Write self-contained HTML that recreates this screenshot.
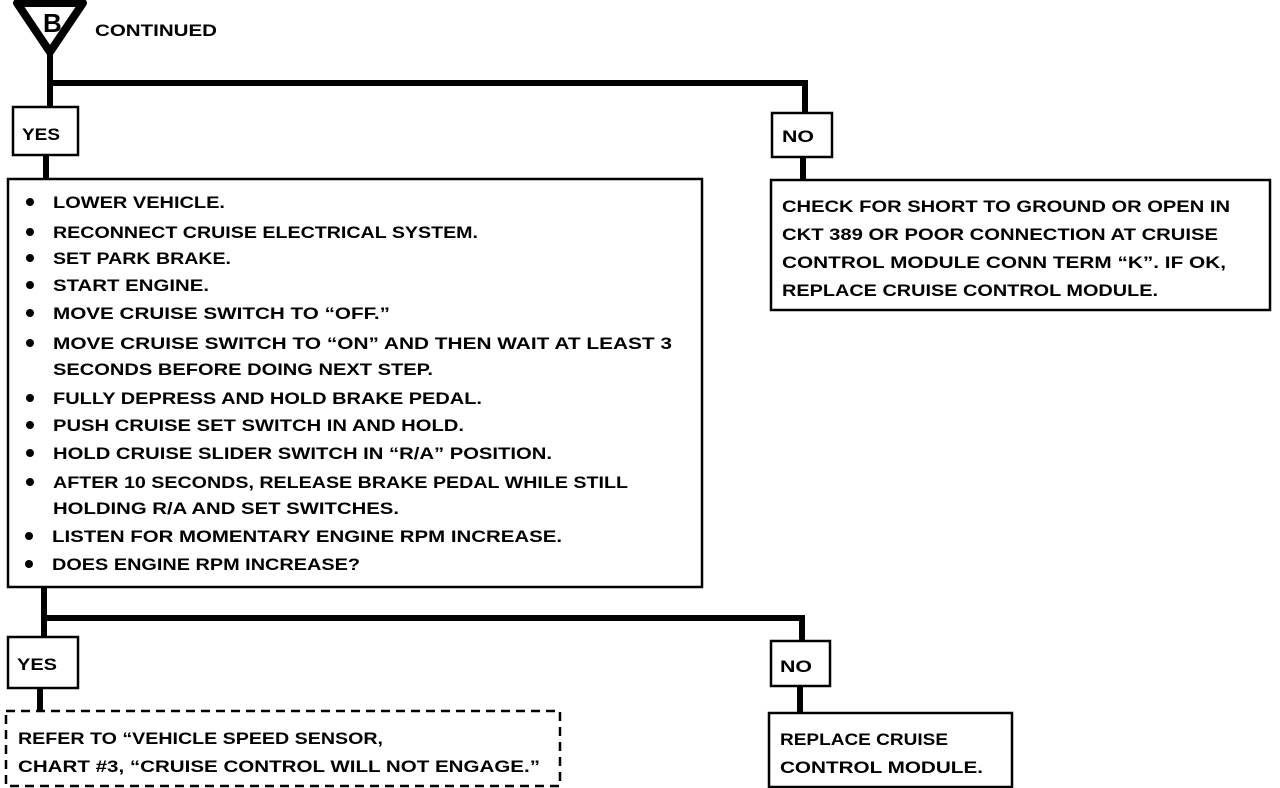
<!DOCTYPE html>
<html><head><meta charset="utf-8"><style>
html,body{margin:0;padding:0;background:#fff;width:1280px;height:788px;overflow:hidden}
svg text{font-family:"Liberation Sans",sans-serif;font-weight:bold;font-size:17px;fill:#000}
</style></head><body>
<svg width="1280" height="788" viewBox="0 0 1280 788" xmlns="http://www.w3.org/2000/svg">
<g fill="none" stroke="#000">
<!-- triangle -->
<polygon points="17,3 83,3 50,52" stroke-width="8" stroke-linejoin="round" fill="#fff"/>
<!-- top connectors -->
<line x1="50" y1="52" x2="50" y2="108" stroke-width="6"/>
<line x1="47" y1="83" x2="808" y2="83" stroke-width="6"/>
<line x1="805" y1="80" x2="805" y2="113" stroke-width="6"/>
<line x1="46" y1="155" x2="46" y2="179" stroke-width="6"/>
<line x1="803" y1="157" x2="803" y2="180" stroke-width="6"/>
<rect x="13" y="107" width="65" height="48" stroke-width="2.5" fill="#fff"/>
<rect x="772" y="113" width="60" height="44" stroke-width="2.5" fill="#fff"/>
<rect x="8" y="179" width="694" height="408" stroke-width="2.5"/>
<rect x="771" y="180" width="499" height="130" stroke-width="2.5"/>
<!-- bottom connectors -->
<line x1="44" y1="587" x2="44" y2="638" stroke-width="6"/>
<line x1="41" y1="618" x2="805" y2="618" stroke-width="6"/>
<line x1="802" y1="615" x2="802" y2="641" stroke-width="6"/>
<line x1="40" y1="688" x2="40" y2="711" stroke-width="6"/>
<line x1="800" y1="686" x2="800" y2="713" stroke-width="6"/>
<rect x="8" y="637" width="70" height="51" stroke-width="2.5" fill="#fff"/>
<rect x="771" y="641" width="59" height="45" stroke-width="2.5" fill="#fff"/>
<rect x="6" y="711" width="554" height="75" stroke-width="2.5" stroke-dasharray="9,6"/>
<rect x="769" y="713" width="243" height="74" stroke-width="2.5"/>
</g>
<text x="43" y="32" font-size="26" style="font-size:26px" fill="#fff">B</text>
<text x="95" y="36" textLength="122" lengthAdjust="spacingAndGlyphs">CONTINUED</text>
<text x="22" y="140" textLength="38" lengthAdjust="spacingAndGlyphs">YES</text>
<text x="782" y="142" textLength="32" lengthAdjust="spacingAndGlyphs">NO</text>
<g fill="#000">
<circle cx="30" cy="202" r="4"/><circle cx="30" cy="232" r="4"/><circle cx="30" cy="258" r="4"/><circle cx="30" cy="285" r="4"/><circle cx="30" cy="313" r="4"/><circle cx="30" cy="343" r="4"/><circle cx="30" cy="398" r="4"/><circle cx="30" cy="425" r="4"/><circle cx="30" cy="453" r="4"/><circle cx="30" cy="482" r="4"/><circle cx="29" cy="536" r="4"/><circle cx="29" cy="564" r="4"/>
</g>
<text x="53" y="208" textLength="172" lengthAdjust="spacingAndGlyphs">LOWER VEHICLE.</text>
<text x="53" y="238" textLength="425" lengthAdjust="spacingAndGlyphs">RECONNECT CRUISE ELECTRICAL SYSTEM.</text>
<text x="53" y="264" textLength="178" lengthAdjust="spacingAndGlyphs">SET PARK BRAKE.</text>
<text x="53" y="291" textLength="156" lengthAdjust="spacingAndGlyphs">START ENGINE.</text>
<text x="53" y="319" textLength="337" lengthAdjust="spacingAndGlyphs">MOVE CRUISE SWITCH TO “OFF.”</text>
<text x="53" y="349" textLength="619" lengthAdjust="spacingAndGlyphs">MOVE CRUISE SWITCH TO “ON” AND THEN WAIT AT LEAST 3</text>
<text x="53" y="375" textLength="380" lengthAdjust="spacingAndGlyphs">SECONDS BEFORE DOING NEXT STEP.</text>
<text x="53" y="404" textLength="429" lengthAdjust="spacingAndGlyphs">FULLY DEPRESS AND HOLD BRAKE PEDAL.</text>
<text x="53" y="431" textLength="411" lengthAdjust="spacingAndGlyphs">PUSH CRUISE SET SWITCH IN AND HOLD.</text>
<text x="53" y="459" textLength="499" lengthAdjust="spacingAndGlyphs">HOLD CRUISE SLIDER SWITCH IN “R/A” POSITION.</text>
<text x="53" y="488" textLength="575" lengthAdjust="spacingAndGlyphs">AFTER 10 SECONDS, RELEASE BRAKE PEDAL WHILE STILL</text>
<text x="53" y="514" textLength="346" lengthAdjust="spacingAndGlyphs">HOLDING R/A AND SET SWITCHES.</text>
<text x="52" y="542" textLength="510" lengthAdjust="spacingAndGlyphs">LISTEN FOR MOMENTARY ENGINE RPM INCREASE.</text>
<text x="52" y="570" textLength="308" lengthAdjust="spacingAndGlyphs">DOES ENGINE RPM INCREASE?</text>
<text x="782" y="212" textLength="448" lengthAdjust="spacingAndGlyphs">CHECK FOR SHORT TO GROUND OR OPEN IN</text>
<text x="782" y="240" textLength="436" lengthAdjust="spacingAndGlyphs">CKT 389 OR POOR CONNECTION AT CRUISE</text>
<text x="782" y="268" textLength="444" lengthAdjust="spacingAndGlyphs">CONTROL MODULE CONN TERM “K”.  IF OK,</text>
<text x="782" y="296" textLength="376" lengthAdjust="spacingAndGlyphs">REPLACE CRUISE CONTROL MODULE.</text>
<text x="17" y="670" textLength="40" lengthAdjust="spacingAndGlyphs">YES</text>
<text x="780" y="672" textLength="32" lengthAdjust="spacingAndGlyphs">NO</text>
<text x="18" y="744" textLength="365" lengthAdjust="spacingAndGlyphs">REFER TO “VEHICLE SPEED SENSOR,</text>
<text x="18" y="772" textLength="522" lengthAdjust="spacingAndGlyphs">CHART #3, “CRUISE CONTROL WILL NOT ENGAGE.”</text>
<text x="780" y="745" textLength="168" lengthAdjust="spacingAndGlyphs">REPLACE CRUISE</text>
<text x="780" y="773" textLength="203" lengthAdjust="spacingAndGlyphs">CONTROL MODULE.</text>
</svg>
</body></html>
